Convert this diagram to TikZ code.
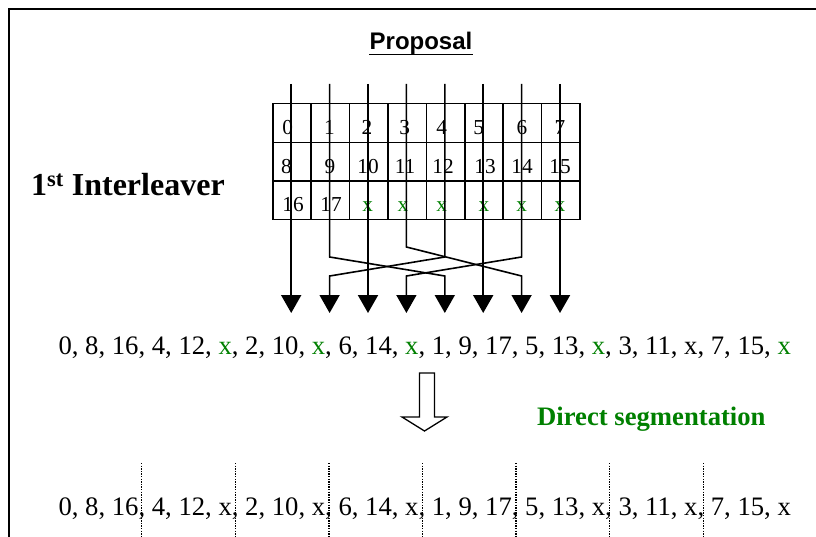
\documentclass[tikz,border=0pt]{standalone}
\usepackage{fontspec}
\setmainfont{Liberation Serif}
\newfontfamily\arialfont{Liberation Sans}
\usetikzlibrary{arrows.meta,calc}
\definecolor{dgreen}{RGB}{0,128,0}
\begin{document}
\begin{tikzpicture}[x=1pt,y=-1pt,
  cellbox/.style={draw,line width=1.5pt,minimum width=38.4pt,minimum height=38.6pt,inner sep=0pt,anchor=north west},
  celltxt/.style={anchor=base,inner sep=0pt,font=\fontsize{21.3}{24}\selectfont},
  seqtxt/.style={anchor=base west,inner sep=0pt,font=\fontsize{26.67}{30}\selectfont},
  straightarrow/.style={line width=2pt,-{Triangle[width=20pt,length=18pt]}},
  crossarrow/.style={line width=1.6pt,-{Triangle[width=20pt,length=18pt]}},
  segline/.style={line width=1.3pt,dash pattern=on 1.3pt off 1.3pt},
  gx/.style={text=dgreen}]
\useasboundingbox (0,0) rectangle (816,537);
% frame
\draw[line width=2.3pt] (9,560) -- (9,9) -- (840,9);
% title
\node[anchor=base,inner sep=0pt,font=\arialfont\bfseries\fontsize{24}{28}\selectfont] (title) at (421,50) {Proposal};
\draw[line width=1.8pt] ($(title.base west)+(0,4.5)$) -- ($(title.base east)+(0,4.5)$);
% interleaver label
\node[anchor=base west,inner sep=0pt,font=\bfseries\fontsize{32}{36}\selectfont] (lbl) at (31,196) {1\textsuperscript{st} Interleaver};
% grid
\foreach \c in {0,...,7}{
  \foreach \r in {0,1,2}{
    \node[cellbox] (cell-\r-\c) at ({272+38.4*\c},{103+38.6*\r}) {};
  }
  \coordinate (t\c) at ({291.2+38.4*\c},84);
  \coordinate (b\c) at ({291.2+38.4*\c},313);
}
% cell texts
\foreach \x/\t [count=\i] in {287.6/0,329.5/1,367/2,404.7/3,441.7/4,478.7/5,522/6,560/7}
  \node[celltxt] (r0-\i) at (\x,135) {\t};
\foreach \x/\t [count=\i] in {286.5/8,330/9,368/10,405/11,443/12,485/13,522/14,560/15}
  \node[celltxt] (r1-\i) at (\x,173.5) {\t};
\node[celltxt] (r2-1) at (293,212) {16};
\node[celltxt] (r2-2) at (331,212) {17};
\foreach \x [count=\i from 3] in {367.7,403,441.7,484,521.7,560}
  \node[celltxt,gx] (r2-\i) at (\x,212) {x};
% straight arrows
\foreach \c in {0,2,5,7}
  \draw[straightarrow] (t\c) -- (b\c);
% crossing arrows
\draw[crossarrow] (t1) -- ($(t1)+(0,173)$) -- ($(b4)+(0,-37)$) -- (b4);
\draw[crossarrow] (t4) -- ($(t4)+(0,173)$) -- ($(b1)+(0,-37)$) -- (b1);
\draw[crossarrow] (t3) -- ($(t3)+(0,163)$) -- ($(b6)+(0,-37)$) -- (b6);
\draw[crossarrow] (t6) -- ($(t6)+(0,173)$) -- ($(b3)+(0,-37)$) -- (b3);
% interleaved sequence
\node[seqtxt] (seq) at (58.3,354) {0, 8, 16, 4, 12, \textcolor{dgreen}{x}, 2, 10, \textcolor{dgreen}{x}, 6, 14, \textcolor{dgreen}{x}, 1, 9, 17, 5, 13, \textcolor{dgreen}{x}, 3, 11, x, 7, 15, \textcolor{dgreen}{x}};
% hollow arrow
\draw[line width=1.3pt,fill=white] (419.5,373) -- (434.5,373) -- (434.5,417) -- (447,417) -- (424.5,431) -- (402,417) -- (419.5,417) -- cycle;
\node[anchor=base west,inner sep=0pt,text=dgreen,font=\bfseries\fontsize{26.67}{30}\selectfont] (dseg) at (537,425) {Direct segmentation};
% segmented sequence
\node[seqtxt] (seg) at (58.3,515) {0, 8, 16, 4, 12, x, 2, 10, x, 6, 14, x, 1, 9, 17, 5, 13, x, 3, 11, x, 7, 15, x};
\foreach \x [count=\i] in {141.7,235.7,329,422.3,516,609.3,703.3}{
  \coordinate (d\i) at (\x,463);
  \draw[segline] (d\i) -- ($(d\i)+(0,90)$);
}
\end{tikzpicture}
\end{document}
